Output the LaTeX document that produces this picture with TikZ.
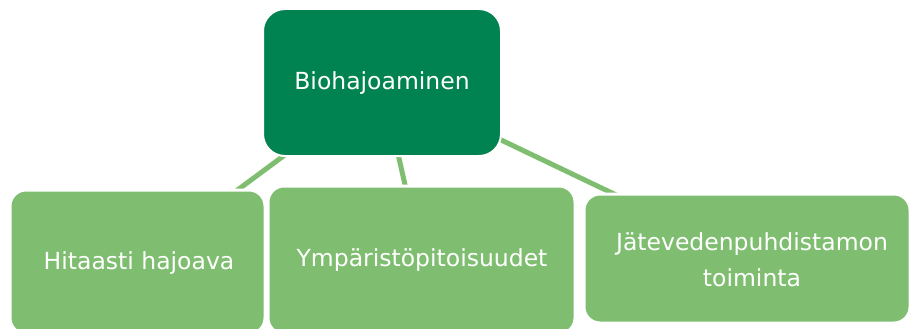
\documentclass[tikz,border=0pt]{standalone}
\usepackage{fontspec}
\setmainfont{DejaVu Sans}
\usetikzlibrary{backgrounds}
\definecolor{darkgreen}{RGB}{0,131,80}
\definecolor{lightgreen}{RGB}{127,190,112}
\tikzset{
  parentbox/.style={fill=darkgreen, draw=white, line width=2pt, rounded corners=22pt},
  childbox/.style={fill=lightgreen, draw=white, line width=3pt, rounded corners=16pt},
  label/.style={text=white, font=\fontsize{23.5}{36}\selectfont, align=center, inner sep=0pt},
  link/.style={draw=lightgreen, line width=5pt}
}
\begin{document}
\begin{tikzpicture}[x=1pt,y=-1pt]
  \useasboundingbox (0,0) rectangle (910,329);
  \clip (0,0) rectangle (910,329);
  % parent
  \path[parentbox] (263,9) rectangle (501,156);
  \node[label] (top) at (382,83) {Biohajoaminen};
  % children
  \path[childbox] (10,190) rectangle (265,334);
  \node[label] (left) at (139,263) {Hitaasti hajoava};
  \path[childbox] (268,186) rectangle (575,334);
  \node[label] (mid) at (422,260) {Ympäristöpitoisuudet};
  \path[childbox] (584,194) rectangle (910,323);
  \node[label] (right) at (752,260) {Jätevedenpuhdistamon\\toiminta};
  % connectors, behind the boxes
  \begin{pgfonlayer}{background}
    \draw[link] (top.center) -- (left.center);
    \draw[link] (top.center) -- (mid.center);
    \draw[link] (top.center) -- (right.center);
  \end{pgfonlayer}
\end{tikzpicture}
\end{document}
